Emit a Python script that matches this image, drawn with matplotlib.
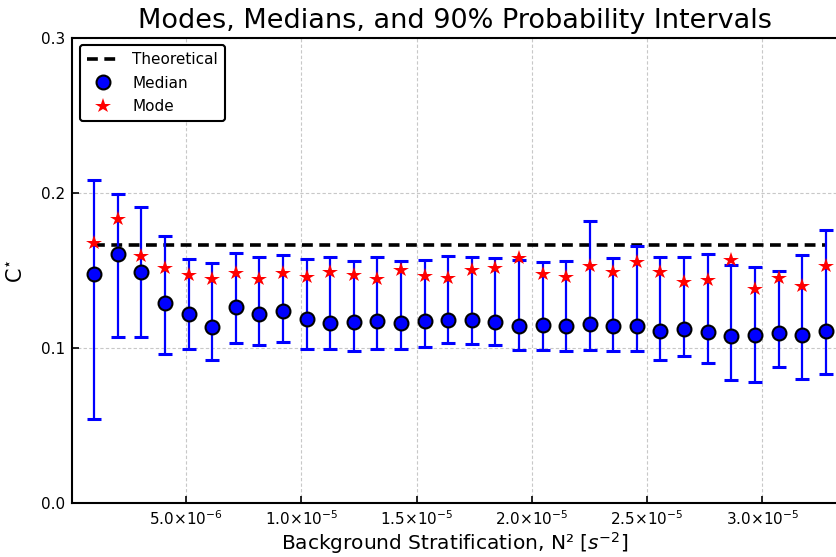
import matplotlib
matplotlib.use("Agg")
import matplotlib.pyplot as plt
import numpy as np

# Background stratification values (s^-2, in units of 1e-6)
n2_e6 = [1.02, 2.05, 3.07, 4.09, 5.12, 6.14, 7.16, 8.19, 9.21, 10.23,
         11.26, 12.28, 13.30, 14.33, 15.35, 16.37, 17.40, 18.42, 19.44, 20.47,
         21.49, 22.51, 23.54, 24.56, 25.58, 26.61, 27.63, 28.65, 29.68, 30.70,
         31.72, 32.75]

median = [0.1477, 0.1605, 0.1491, 0.1288, 0.1217, 0.1137, 0.1266, 0.1221,
          0.1240, 0.1187, 0.1163, 0.1167, 0.1176, 0.1159, 0.1174, 0.1180,
          0.1182, 0.1165, 0.1140, 0.1148, 0.1140, 0.1157, 0.1144, 0.1142,
          0.1110, 0.1120, 0.1105, 0.1077, 0.1086, 0.1099, 0.1082, 0.1110]

mode = [0.1674, 0.1831, 0.1592, 0.1517, 0.1468, 0.1444, 0.1487, 0.1446,
        0.1485, 0.1455, 0.1489, 0.1470, 0.1444, 0.1504, 0.1464, 0.1453,
        0.1504, 0.1515, 0.1582, 0.1477, 0.1455, 0.1528, 0.1491, 0.1556,
        0.1489, 0.1425, 0.1440, 0.1567, 0.1384, 0.1453, 0.1399, 0.1526]

# 90% probability interval bounds
upper = [0.2086, 0.1996, 0.1910, 0.1723, 0.1573, 0.1547, 0.1612, 0.1588,
         0.1597, 0.1571, 0.1590, 0.1562, 0.1588, 0.1562, 0.1569, 0.1594,
         0.1584, 0.1582, 0.1567, 0.1556, 0.1558, 0.1820, 0.1582, 0.1661,
         0.1590, 0.1588, 0.1605, 0.1534, 0.1522, 0.1500, 0.1601, 0.1764]

lower = [0.0541, 0.1073, 0.1069, 0.0959, 0.0994, 0.0921, 0.1032, 0.1017,
         0.1037, 0.0992, 0.0996, 0.0983, 0.0996, 0.0992, 0.1005, 0.1032,
         0.1028, 0.1021, 0.0987, 0.0989, 0.0981, 0.0989, 0.0979, 0.0981,
         0.0921, 0.0948, 0.0901, 0.0794, 0.0779, 0.0880, 0.0802, 0.0831]

theoretical = 1.0 / 6.0

x_ticks_e6 = [5, 10, 15, 20, 25, 30]
x_tick_labels = [r"$5.0{\times}10^{-6}$", r"$1.0{\times}10^{-5}$", r"$1.5{\times}10^{-5}$",
                 r"$2.0{\times}10^{-5}$", r"$2.5{\times}10^{-5}$", r"$3.0{\times}10^{-5}$"]
y_ticks = [0.0, 0.1, 0.2, 0.3]
y_tick_labels = ["0.0", "0.1", "0.2", "0.3"]

plt.rcParams["font.family"] = ["DejaVu Sans"]
plt.rcParams["mathtext.fontset"] = "dejavusans"

x = np.array(n2_e6) * 1e-6
med = np.array(median)
yerr = np.vstack([med - np.array(lower), np.array(upper) - med])

fig = plt.figure(figsize=(8.37, 5.57), dpi=100)
ax = fig.add_axes([72 / 837, 1 - 503.3 / 557, 766 / 837, (503.3 - 37.7) / 557])

ax.grid(True, color="#c8c8c8", linestyle=(0, (3, 2)), linewidth=0.8, zorder=0)

ax.plot(x, [theoretical] * len(x), color="black", linewidth=2.6,
        dashes=(3.0, 1.8), label="Theoretical", zorder=2)

ax.errorbar(x, med, yerr=yerr, fmt="none", ecolor="#0000ff", elinewidth=1.6,
            capsize=4.8, capthick=2.2, zorder=3)
ax.plot(x, med, linestyle="none", marker="o", markersize=10,
        markerfacecolor="#0000ff", markeredgecolor="black", markeredgewidth=1.5,
        label="Median", zorder=4)
ax.plot(x, mode, linestyle="none", marker="*", markersize=11.5,
        color="#ff0000", markeredgewidth=0, label="Mode", zorder=5)

ax.set_xlim(0.06e-6, 0.06e-6 + 766 / 23.06 * 1e-6)
ax.set_ylim(0, 0.3)
ax.set_xticks(np.array(x_ticks_e6) * 1e-6)
ax.set_xticklabels(x_tick_labels, fontsize=11)
ax.set_yticks(y_ticks)
ax.set_yticklabels(y_tick_labels, fontsize=11)
ax.tick_params(axis="both", direction="in", length=5, width=1.2,
               top=False, right=False)
ax.tick_params(axis="x", pad=4)
ax.tick_params(axis="y", pad=5)

for side in ("left", "bottom", "top"):
    ax.spines[side].set_linewidth(1.5)
ax.spines["right"].set_visible(False)

ax.set_title("Modes, Medians, and 90% Probability Intervals", fontsize=19.5, pad=7)
ax.set_xlabel(r"Background Stratification, N² [$s^{-2}$]", fontsize=14.5, labelpad=2)
ax.set_ylabel(r"C$^{\star}$", fontsize=15, labelpad=10)

leg = ax.legend(loc="upper left", fontsize=11, frameon=True, fancybox=True,
                borderaxespad=0.5, handlelength=2.2, handletextpad=0.8,
                labelspacing=0.55, borderpad=0.45)
leg.get_frame().set_edgecolor("black")
leg.get_frame().set_linewidth(1.5)
leg.get_frame().set_alpha(1.0)

fig.savefig("out.png", dpi=100)
